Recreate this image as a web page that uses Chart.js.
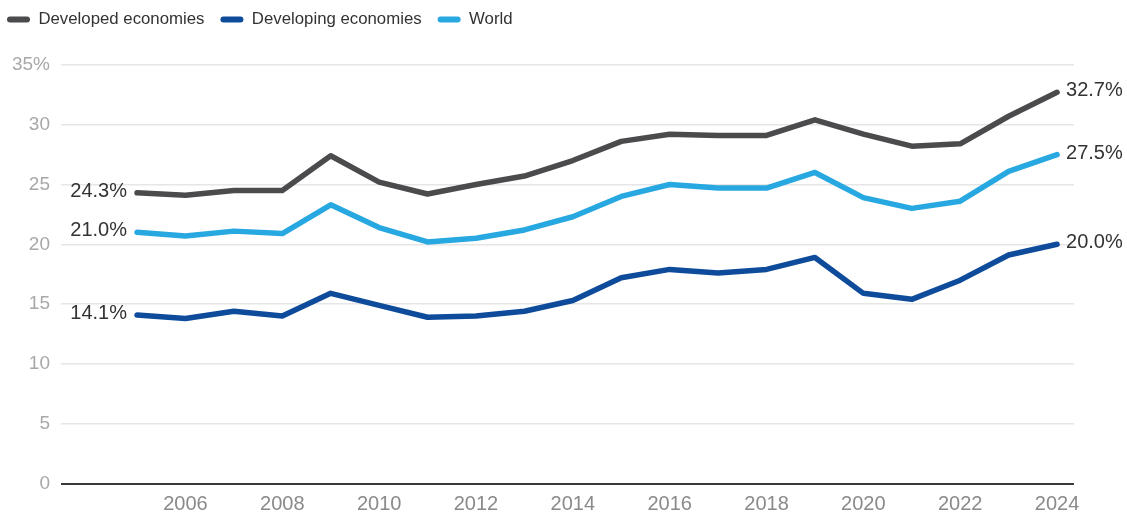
<!DOCTYPE html>
<html>
<head>
<meta charset="utf-8">
<script src="https://cdn.jsdelivr.net/npm/chart.js@4/dist/chart.umd.min.js"></script>
<style>
  html, body { margin: 0; padding: 0; background: #ffffff; }
  #wrap { width: 1127px; height: 518px; position: relative; }
</style>
</head>
<body>
<div id="wrap"><canvas id="chart"></canvas></div>
<script>
// Share of the series, in percent, by year
const years = [2005, 2006, 2007, 2008, 2009, 2010, 2011, 2012, 2013, 2014,
               2015, 2016, 2017, 2018, 2019, 2020, 2021, 2022, 2023, 2024];
const developed = [24.3, 24.1, 24.5, 24.5, 27.4, 25.2, 24.2, 25.0, 25.7, 27.0,
                   28.6, 29.2, 29.1, 29.1, 30.4, 29.2, 28.2, 28.4, 30.7, 32.7];
const developing = [14.1, 13.8, 14.4, 14.0, 15.9, 14.9, 13.9, 14.0, 14.4, 15.3,
                    17.2, 17.9, 17.6, 17.9, 18.9, 15.9, 15.4, 17.0, 19.1, 20.0];
const world = [21.0, 20.7, 21.1, 20.9, 23.3, 21.4, 20.2, 20.5, 21.2, 22.3,
               24.0, 25.0, 24.7, 24.7, 26.0, 23.9, 23.0, 23.6, 26.1, 27.5];
const xTickYears = [2006, 2008, 2010, 2012, 2014, 2016, 2018, 2020, 2022, 2024];
const yTicks = [0, 5, 10, 15, 20, 25, 30, 35];

const FONT = "'Liberation Sans', Arial, Helvetica, sans-serif";

const toPoints = vals => vals.map((v, i) => ({ x: years[i], y: v }));

// Labels the first and last value of every line
const endLabels = {
  id: 'endLabels',
  afterDatasetsDraw(chart) {
    const ctx = chart.ctx;
    ctx.save();
    ctx.font = '20px ' + FONT;
    ctx.fillStyle = '#333333';
    ctx.textBaseline = 'middle';
    chart.data.datasets.forEach((ds, i) => {
      const meta = chart.getDatasetMeta(i);
      const first = meta.data[0];
      const last = meta.data[meta.data.length - 1];
      const fmt = v => v.toFixed(1) + '%';
      ctx.textAlign = 'right';
      ctx.fillText(fmt(ds.data[0].y), first.x - 10, first.y - 1.5);
      ctx.textAlign = 'left';
      ctx.fillText(fmt(ds.data[ds.data.length - 1].y), last.x + 9, last.y - 1.5);
    });
    ctx.restore();
  }
};

// Leaves room between the legend row and the plot
const legendGap = {
  id: 'legendGap',
  beforeInit(chart) {
    const lg = chart.legend;
    if (!lg) return;
    const fit = lg.fit;
    lg.fit = function () {
      fit.call(this);
      this.height += 27;
    };
  }
};

const lineStyle = color => ({
  borderColor: color,
  backgroundColor: color,
  borderWidth: 5.5,
  pointRadius: 0,
  pointHoverRadius: 0,
  tension: 0,
  borderJoinStyle: 'round',
  borderCapStyle: 'round',
  fill: false
});

new Chart(document.getElementById('chart'), {
  type: 'line',
  data: {
    datasets: [
      { label: 'Developed economies', data: toPoints(developed), ...lineStyle('#4b4b4d') },
      { label: 'Developing economies', data: toPoints(developing), ...lineStyle('#0e4c9b') },
      { label: 'World', data: toPoints(world), ...lineStyle('#28a8e0') }
    ]
  },
  options: {
    responsive: true,
    maintainAspectRatio: false,
    animation: false,
    devicePixelRatio: 1,
    layout: { padding: { left: -9, right: 53, top: -5, bottom: 0 } },
    plugins: {
      tooltip: { enabled: false },
      legend: {
        position: 'top',
        align: 'start',
        labels: {
          color: '#333333',
          font: { family: FONT, size: 16.8 },
          boxWidth: 23,
          boxHeight: 6,
          useBorderRadius: true,
          borderRadius: 3,
          padding: 16,
          generateLabels(chart) {
            return Chart.defaults.plugins.legend.labels.generateLabels(chart)
              .map(l => ({ ...l, lineWidth: 0 }));
          }
        }
      }
    },
    scales: {
      x: {
        type: 'linear',
        min: 2003.43,
        max: 2024.35,
        grid: { display: false, drawTicks: false },
        border: { display: false },
        afterBuildTicks(scale) {
          scale.ticks = xTickYears.map(v => ({ value: v }));
        },
        afterFit(scale) { scale.height = 34.4; },
        ticks: {
          autoSkip: false,
          maxRotation: 0,
          padding: 9,
          color: '#8a8a8a',
          font: { family: FONT, size: 20 },
          callback: v => String(v)
        }
      },
      y: {
        min: 0,
        max: 35,
        afterBuildTicks(scale) {
          scale.ticks = yTicks.map(v => ({ value: v }));
        },
        afterFit(scale) { scale.width = 70; },
        border: { display: false },
        grid: {
          drawTicks: false,
          color: c => (c.tick && c.tick.value === 0) ? '#3a3a3a' : '#e6e6e6',
          lineWidth: c => (c.tick && c.tick.value === 0) ? 2 : 1.5
        },
        ticks: {
          padding: 11,
          color: '#a8a8a8',
          font: { family: FONT, size: 19 },
          callback: v => (v === 35 ? v + '%' : String(v))
        }
      }
    }
  },
  plugins: [endLabels, legendGap]
});
</script>
</body>
</html>
